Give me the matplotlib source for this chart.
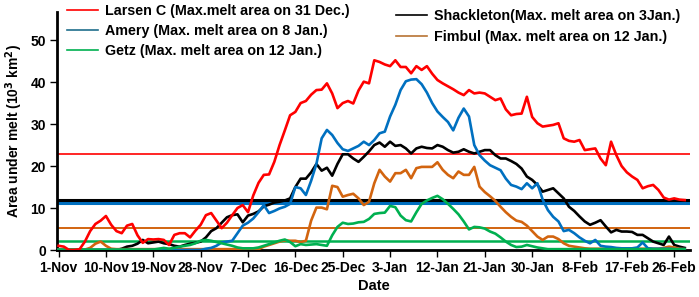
import numpy as np
import matplotlib
matplotlib.use("Agg")
import matplotlib.pyplot as plt
from matplotlib.lines import Line2D

plt.rcParams['font.family'] = ['Liberation Sans', 'DejaVu Sans']
plt.rcParams['font.weight'] = 'bold'

# daily melt area (10^3 km2), day 0 = 1-Nov
larsen = [1.0, 0.8, 0, 0, 0.2, 2, 4.5, 6.2, 7, 8.1, 6, 4.5, 4, 5.8, 6.2, 3.5, 1.7, 2.6, 2.5, 2.6,
          2.4, 1.2, 3.6, 4, 4, 3, 4.6, 6, 8.3, 8.8, 7, 5.2, 6.5, 8.3, 10, 10.7, 9, 13, 16, 17.9,
          18, 21, 25, 28.5, 32.1, 32.9, 35, 35.5, 37, 38.1, 38.2, 39.7, 37.3, 33.8, 35, 35.5, 34.9, 38, 40.1, 39.7,
          45.2, 44.8, 44.2, 43.8, 45.2, 43.6, 43.6, 42.1, 43.8, 42.9, 43.8, 42, 40.5, 39.7, 39, 38.3, 37.5, 36.9, 38.1, 37.3,
          37.5, 37.3, 36.5, 35.7, 36.1, 33.5, 32.1, 32.4, 32.5, 36.5, 31.7, 30.2, 29.4, 29.6, 29.8, 30.2, 26.6, 26, 25.8, 26.2,
          23.8, 24, 24.2, 21.8, 20.2, 25.8, 22.6, 20, 18.5, 17.5, 16.7, 14.7, 15.2, 15.5, 14.3, 12.5, 12, 12.3, 12, 11.9]
amery = [0] * 28 + [0.3, 0.5, 1, 1.8, 2, 2.2, 4, 5.8, 6.5, 7.5, 9, 10.7,
         8.8, 9.3, 9.9, 10.3, 11, 15, 14.7, 13.1, 16.5, 20.5, 26.6, 28.6, 27.4, 25.5, 24, 23.6, 24.2, 24.8, 25.8, 25,
         26.2, 27.8, 28.2, 31.8, 34.6, 38.1, 40.2, 40.6, 40.7, 39.5, 37.5, 35, 33, 31.7, 30.5, 28.5, 31.5, 33.7, 31.8, 25,
         22.6, 21.3, 20.2, 19.6, 19, 17, 15.5, 15.1, 14.5, 15.9, 14.7, 15.9, 12, 9.5, 7.9, 6.8, 4.5, 4.8, 4, 3,
         2.2, 1.6, 2.4, 1, 0.8, 0.7, 0.5, 0.4, 0.4, 0.4, 0.6, 1.8, 0.4, 0.3, 0.3, 0.3, 0.3, 0.2, 0.2, 0.2]
getz = [0.1] * 19 + [0.3,
        0.5, 0.3, 0.5, 0.8, 1, 1.2, 1.6, 2.2, 2.4, 2.2, 1.9, 1.6, 1.3, 1, 0.6, 0.4, 0.4, 0.4, 0.6, 1,
        1.4, 1.8, 2.2, 2.5, 1.9, 0.9, 1.4, 1.2, 1.3, 1.4, 1.2, 1, 3.5, 5.5, 6.5, 6.2, 6.3, 6.6, 6.7, 7.4,
        8.6, 8.8, 8.9, 10.5, 10.2, 8.2, 7.1, 6.8, 9, 11, 11.8, 12.4, 12.9, 12.1, 11, 9.8, 8.5, 6.8, 4.9, 5.5,
        5.4, 5.1, 4.4, 3.9, 3, 2, 1.2, 0.7, 0.8, 1.2, 0.9, 0.6, 0.4] + [0.2] * 27
shackleton = [0] * 12 + [0.3, 0.8, 1, 1.5, 2.4, 1.6, 1.8, 2,
              1.6, 1.4, 1, 0.8, 1.2, 1.5, 1.7, 2, 3, 4.5, 5.2, 6.5, 7.8, 8.3, 8.5, 6.6, 8.2, 8.6, 9.2, 10.4,
              10.8, 11.3, 11.5, 11.8, 12.3, 15, 17, 17, 18.5, 20.5, 18.9, 19.6, 17.7, 20.5, 22.8, 22.8, 21.8, 21, 22.2, 23.5,
              25, 25.6, 24.6, 25.8, 24.8, 25, 24.2, 23, 24.2, 24.6, 24.3, 24.2, 25, 24.6, 23.8, 23.2, 23.4, 24, 23.4, 23,
              23.4, 23.8, 23.8, 22.6, 21.8, 21.8, 21.2, 20.5, 19.4, 17.5, 16.7, 15.5, 13.9, 14.3, 14.7, 13.5, 12.3, 10.3, 9.3, 8,
              6.8, 6, 6.5, 7.1, 5.6, 4.2, 4.8, 4.4, 4.4, 4.3, 3.6, 3.6, 2.8, 2, 1.6, 1.2, 3.2, 1.2, 0.8, 0.5]
fimbul = [0.1] * 6 + [0.5, 1.5, 2, 1, 0.3] + [0.2] * 28 + [0.8,
          1.2, 1.6, 2, 2.3, 2.2, 2.2, 1.9, 2.2, 7, 10.1, 10.1, 9.7, 15.3, 15, 12.7, 13.1, 13.4, 12.3, 10.7, 11.5,
          15.9, 19.1, 17.5, 16.3, 18.3, 18.3, 19.1, 17.1, 19.5, 19.8, 19.8, 19.8, 20.9, 19.1, 17.9, 17.1, 18.7, 17.9, 17.9, 19.8,
          15.1, 13.8, 12.8, 11.7, 10.3, 9, 7.9, 7, 6.7, 5.8, 4.5, 3.2, 2.4, 3.2, 3.2, 2.6, 1.6, 1, 0.8, 0.6,
          0.4] + [0.3] * 14 + [0.5, 0.8, 0.6, 0.3, 0.2]

# mean melt area lines
means = {'Larsen': 22.9, 'Shackleton': 11.8, 'Amery': 11.3, 'Fimbul': 5.2, 'Getz': 2.2}

tick_labels = ['1-Nov', '10-Nov', '19-Nov', '28-Nov', '7-Dec', '16-Dec', '25-Dec',
               '3-Jan', '12-Jan', '21-Jan', '30-Jan', '8-Feb', '17-Feb', '26-Feb']

c_red, c_blue, c_green, c_black, c_orange = '#FF0000', '#0070C0', '#00B050', '#000000', '#D2640F'

fig = plt.figure(figsize=(6.99, 2.97), dpi=100)
ax = fig.add_axes([57 / 699, 47 / 297, 633 / 699, 238 / 297])

days = np.arange(len(larsen))
lw = 1.9
ax.plot(np.arange(len(shackleton)), shackleton, color=c_black, lw=lw, zorder=3)
ax.plot(np.arange(len(amery)), amery, color=c_blue, lw=lw, zorder=4)
ax.plot(np.arange(len(fimbul)), fimbul, color=c_orange, lw=lw, zorder=3)
ax.plot(np.arange(len(getz)), getz, color=c_green, lw=lw, zorder=4)
ax.plot(days, larsen, color=c_red, lw=lw, zorder=5)

ax.axhline(means['Larsen'], color=c_red, lw=1.2, zorder=2)
ax.axhline(means['Amery'], color=c_blue, lw=2.2, zorder=2)
ax.axhline(means['Shackleton'], color=c_black, lw=2.2, zorder=2)
ax.axhline(means['Fimbul'], color=c_orange, lw=1.4, zorder=2)
ax.axhline(means['Getz'], color=c_green, lw=1.8, zorder=2)

ax.set_xlim(-0.3, 120)
ax.set_ylim(0, 56.7)
ax.set_xticks(np.arange(len(tick_labels)) * 9)
ax.set_xticklabels(tick_labels)
ax.set_yticks([0, 10, 20, 30, 40, 50])
ax.tick_params(axis='both', labelsize=10, width=1, length=5, direction='out', pad=3)
for s in ['top', 'right']:
    ax.spines[s].set_visible(False)
for s in ['left', 'bottom']:
    ax.spines[s].set_linewidth(2)

ax.set_xlabel('Date', fontsize=10.5, fontweight='bold', labelpad=3)
ax.set_ylabel('Area under melt (10$^3$ km$^2$)', fontsize=10, fontweight='bold', labelpad=4)

h1 = [Line2D([], [], color=c_red, lw=1.2), Line2D([], [], color='#1F6E8C', lw=1.2),
      Line2D([], [], color=c_green, lw=1.2)]
l1 = ['Larsen C (Max.melt area on 31 Dec.)', 'Amery (Max. melt area on 8 Jan.)',
      'Getz (Max. melt area on 12 Jan.)']
leg1 = ax.legend(h1, l1, loc='upper left', bbox_to_anchor=(-0.005, 1.088), frameon=False,
                 handlelength=2.2, handletextpad=0.5, labelspacing=0.42,
                 prop={'weight': 'bold', 'size': 10.3})
ax.add_artist(leg1)
h2 = [Line2D([], [], color=c_black, lw=1.2), Line2D([], [], color='#B87333', lw=1.2)]
l2 = ['Shackleton(Max. melt area on 3Jan.)', 'Fimbul (Max. melt area on 12 Jan.)']
ax.legend(h2, l2, loc='upper left', bbox_to_anchor=(0.515, 1.066), frameon=False,
          handlelength=2.2, handletextpad=0.5, labelspacing=0.5,
          prop={'weight': 'bold', 'size': 10.3})

fig.savefig('out.png', dpi=100)
